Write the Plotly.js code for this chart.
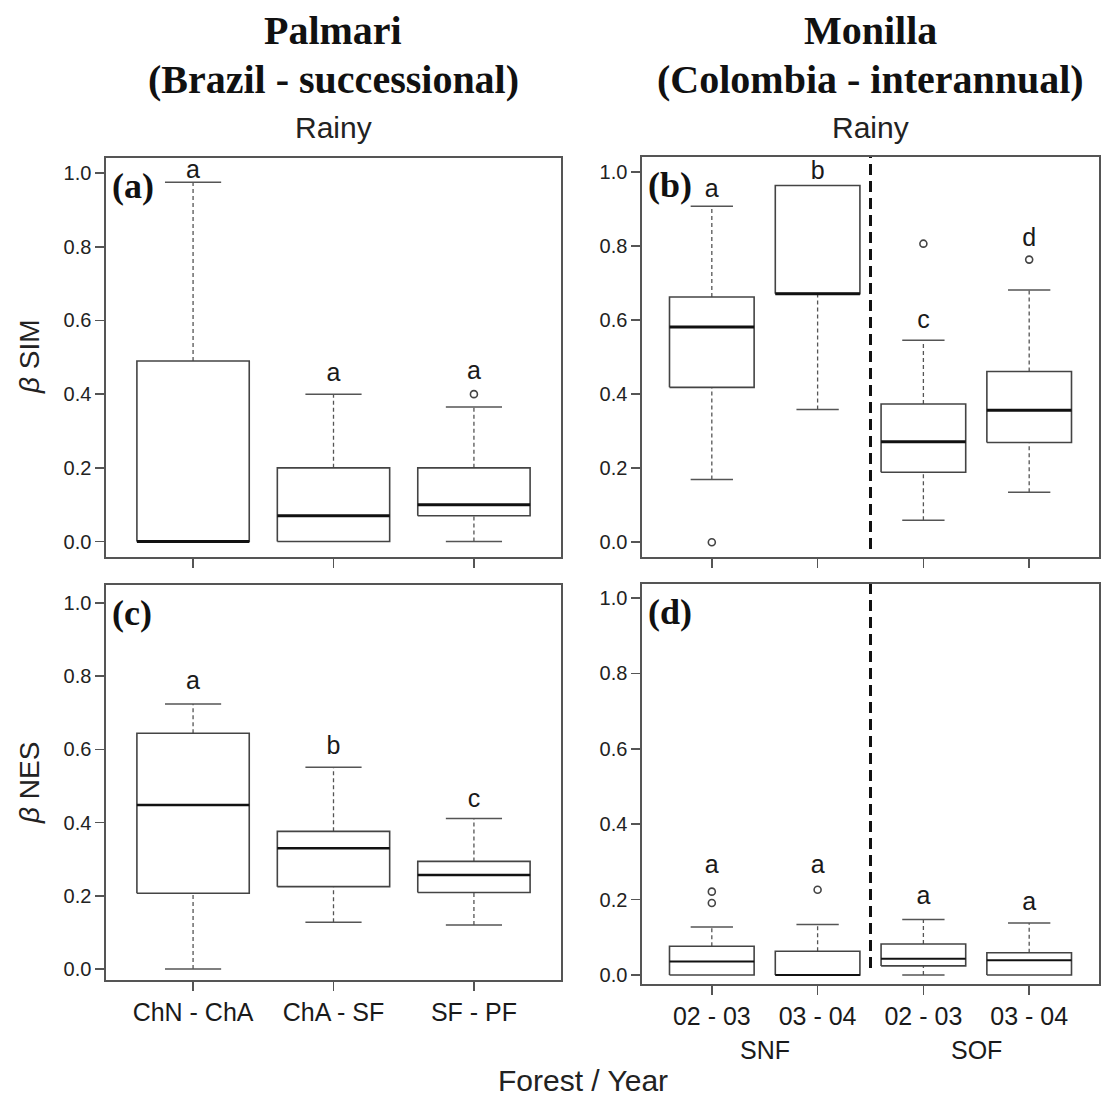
<!DOCTYPE html>
<html><head><meta charset="utf-8">
<script src="https://cdn.plot.ly/plotly-3.0.1.min.js"></script>
<style>html,body{margin:0;padding:0;background:#fff}</style>
</head><body><div id="chart" style="width:1101px;height:1104px"></div>
<script>
// ---------- categories ----------
const catsPalmari = ["ChN - ChA", "ChA - SF", "SF - PF"];
const catsMonilla = ["02 - 03", "03 - 04", "02 - 03", "03 - 04"];
const forestGroups = ["SNF", "SOF"];
const groupCenters = [1.5, 3.5];
const groupBreak = 2.5;

// ---------- (a) Palmari, beta SIM ----------
const simPal_lo  = [0, 0, 0];
const simPal_q1  = [0, 0, 0.07];
const simPal_med = [0, 0.07, 0.10];
const simPal_q3  = [0.49, 0.20, 0.20];
const simPal_hi  = [0.975, 0.40, 0.365];
const simPal_out = [[], [], [0.40]];
const simPal_letters = ["a", "a", "a"];
const simPal_letterY = [1.005, 0.452, 0.457];

// ---------- (b) Monilla, beta SIM ----------
const simMon_lo  = [0.169, 0.358, 0.059, 0.135];
const simMon_q1  = [0.418, 0.671, 0.189, 0.269];
const simMon_med = [0.581, 0.671, 0.271, 0.356];
const simMon_q3  = [0.662, 0.963, 0.373, 0.461];
const simMon_hi  = [0.907, 0.963, 0.545, 0.681];
const simMon_out = [[0.0], [], [0.806], [0.763]];
const simMon_letters = ["a", "b", "c", "d"];
const simMon_letterY = [0.950, 0.997, 0.596, 0.817];

// ---------- (c) Palmari, beta NES ----------
const nesPal_lo  = [0, 0.128, 0.120];
const nesPal_q1  = [0.207, 0.225, 0.209];
const nesPal_med = [0.448, 0.330, 0.257];
const nesPal_q3  = [0.644, 0.376, 0.294];
const nesPal_hi  = [0.724, 0.551, 0.411];
const nesPal_out = [[], [], []];
const nesPal_letters = ["a", "b", "c"];
const nesPal_letterY = [0.781, 0.604, 0.460];

// ---------- (d) Monilla, beta NES ----------
const nesMon_lo  = [0, 0, 0, 0];
const nesMon_q1  = [0, 0, 0.024, 0];
const nesMon_med = [0.036, 0, 0.043, 0.039];
const nesMon_q3  = [0.076, 0.063, 0.082, 0.059];
const nesMon_hi  = [0.127, 0.134, 0.147, 0.138];
const nesMon_out = [[0.191, 0.221], [0.226], [], []];
const nesMon_letters = ["a", "a", "a", "a"];
const nesMon_letterY = [0.286, 0.286, 0.206, 0.189];

// ---------- helpers ----------
const W = 1101, H = 1104;
const px = v => v / W;
const py = v => (H - v) / H;
const SANS = "Liberation Sans, Arial, sans-serif";
const SERIF = "Liberation Serif, Times New Roman, serif";
const BOXC = "#444";

function panelTraces(xa, ya, lo, q1, med, q3, hi, out, letters, letterY, bw, medW) {
  const bx = [], by = [], mx = [], my = [], wx = [], wy = [], cx = [], cy = [], ox = [], oy = [];
  for (let i = 0; i < q1.length; i++) {
    const x = i + 1, l = x - bw / 2, r = x + bw / 2;
    bx.push(l, r, r, l, l, null); by.push(q1[i], q1[i], q3[i], q3[i], q1[i], null);
    mx.push(l, r, null); my.push(med[i], med[i], null);
    if (hi[i] > q3[i]) {
      wx.push(x, x, null); wy.push(q3[i], hi[i], null);
      cx.push(x - bw / 4, x + bw / 4, null); cy.push(hi[i], hi[i], null);
    }
    if (lo[i] < q1[i]) {
      wx.push(x, x, null); wy.push(lo[i], q1[i], null);
      cx.push(x - bw / 4, x + bw / 4, null); cy.push(lo[i], lo[i], null);
    }
    out[i].forEach(v => { ox.push(x); oy.push(v); });
  }
  const common = {xaxis: xa, yaxis: ya, showlegend: false, hoverinfo: "skip"};
  return [
    Object.assign({type: "scatter", mode: "lines", x: wx, y: wy, line: {color: "#555", width: 1.3, dash: "4px,3px"}}, common),
    Object.assign({type: "scatter", mode: "lines", x: cx, y: cy, line: {color: "#555", width: 1.5}}, common),
    Object.assign({type: "scatter", mode: "lines", x: bx, y: by, line: {color: BOXC, width: 1.6}}, common),
    Object.assign({type: "scatter", mode: "lines", x: mx, y: my, line: {color: "#111", width: medW}}, common),
    Object.assign({type: "scatter", mode: "markers", x: ox, y: oy, marker: {symbol: "circle-open", size: 7, color: "#444", line: {width: 1.6, color: "#444"}}}, common),
    Object.assign({type: "scatter", mode: "text", x: letters.map((_, i) => i + 1), y: letterY, text: letters,
      textposition: "middle center", textfont: {family: SANS, size: 25, color: "#1a1a1a"}}, common)
  ];
}

const traces = [].concat(
  panelTraces("x", "y", simPal_lo, simPal_q1, simPal_med, simPal_q3, simPal_hi, simPal_out, simPal_letters, simPal_letterY, 0.8, 3),
  panelTraces("x2", "y2", simMon_lo, simMon_q1, simMon_med, simMon_q3, simMon_hi, simMon_out, simMon_letters, simMon_letterY, 0.8, 3),
  panelTraces("x3", "y3", nesPal_lo, nesPal_q1, nesPal_med, nesPal_q3, nesPal_hi, nesPal_out, nesPal_letters, nesPal_letterY, 0.8, 2.6),
  panelTraces("x4", "y4", nesMon_lo, nesMon_q1, nesMon_med, nesMon_q3, nesMon_hi, nesMon_out, nesMon_letters, nesMon_letterY, 0.8, 2)
);

function xAxis(domain, n, labels, anchor) {
  return {
    domain: domain, anchor: anchor, range: n === 3 ? [0.38, 3.62] : [0.34, 4.66],
    tickvals: Array.from({length: n}, (_, i) => i + 1),
    ticktext: labels || Array(n).fill(""), showticklabels: !!labels,
    ticks: "outside", ticklen: 9, tickwidth: 1.5, tickcolor: "#555",
    tickfont: {family: SANS, size: 25, color: "#1a1a1a"},
    showline: true, mirror: true, linecolor: "#555", linewidth: 1.6,
    showgrid: false, zeroline: false, fixedrange: true
  };
}
function yAxis(domain, range, anchor) {
  return {
    domain: domain, anchor: anchor, range: range,
    tickvals: [0, 0.2, 0.4, 0.6, 0.8, 1.0], ticktext: ["0.0", "0.2", "0.4", "0.6", "0.8", "1.0"],
    ticks: "outside", ticklen: 9, tickwidth: 1.5, tickcolor: "#555",
    tickfont: {family: SANS, size: 20, color: "#222"},
    showline: true, mirror: true, linecolor: "#555", linewidth: 1.6,
    showgrid: false, zeroline: false, fixedrange: true
  };
}

const dA = [px(106), px(561)], dB = [px(642), px(1099)];
const layout = {
  width: W, height: H, margin: {l: 0, r: 0, t: 0, b: 0},
  paper_bgcolor: "#fff", plot_bgcolor: "#fff", showlegend: false,
  xaxis:  xAxis(dA, 3, null, "y"),
  xaxis2: xAxis(dB, 4, null, "y2"),
  xaxis3: xAxis(dA, 3, catsPalmari, "y3"),
  xaxis4: xAxis(dB, 4, catsMonilla, "y4"),
  yaxis:  yAxis([py(557), py(158)], [-0.042, 1.041], "x"),
  yaxis2: yAxis([py(557), py(157)], [-0.040, 1.040], "x2"),
  yaxis3: yAxis([py(980), py(585)], [-0.030, 1.049], "x3"),
  yaxis4: yAxis([py(984), py(584)], [-0.024, 1.037], "x4"),
  shapes: [
    {type: "line", xref: "x2", yref: "y2 domain", x0: groupBreak, x1: groupBreak, y0: 0.02, y1: 1, line: {color: "#111", width: 3, dash: "11px,6px"}},
    {type: "line", xref: "x4", yref: "y4 domain", x0: groupBreak, x1: groupBreak, y0: 0.04, y1: 1, line: {color: "#111", width: 3, dash: "11px,6px"}}
  ],
  annotations: []
};

const ann = layout.annotations;
function addText(text, x, y, size, family, opts) {
  ann.push(Object.assign({text: text, x: x, y: y, xref: "paper", yref: "paper", showarrow: false,
    xanchor: "center", yanchor: "middle", font: {family: family, size: size, color: "#111"}}, opts || {}));
}
// column headers
addText("<b>Palmari</b>", px(333), py(30), 40, SERIF);
addText("<b>(Brazil - successional)</b>", px(333), py(79), 40, SERIF);
addText("Rainy", px(333), py(127), 30, SANS, {font: {family: SANS, size: 30, color: "#222"}});
addText("<b>Monilla</b>", px(870), py(30), 40, SERIF);
addText("<b>(Colombia - interannual)</b>", px(870), py(79), 40, SERIF);
addText("Rainy", px(870), py(127), 30, SANS, {font: {family: SANS, size: 30, color: "#222"}});
// y titles
addText("<i>β</i> SIM", px(29), py(357), 28, SANS, {textangle: -90, font: {family: SANS, size: 28, color: "#222"}});
addText("<i>β</i> NES", px(29), py(783), 28, SANS, {textangle: -90, font: {family: SANS, size: 28, color: "#222"}});
// x title
addText("Forest / Year", px(583), py(1080), 30, SANS, {font: {family: SANS, size: 30, color: "#222"}});
// panel tags
[["(a)", "x", "y"], ["(b)", "x2", "y2"], ["(c)", "x3", "y3"], ["(d)", "x4", "y4"]].forEach(t => {
  ann.push({text: "<b>" + t[0] + "</b>", xref: t[1] + " domain", yref: t[2] + " domain", x: 0, y: 1,
    xanchor: "left", yanchor: "top", xshift: 4, yshift: -6, showarrow: false,
    font: {family: SERIF, size: 36, color: "#111"}});
});
// forest group labels under panel (d)
forestGroups.forEach((g, i) => {
  ann.push({text: g, xref: "x4", yref: "paper", x: groupCenters[i], y: py(1050), showarrow: false,
    xanchor: "center", yanchor: "middle", font: {family: SANS, size: 25, color: "#1a1a1a"}});
});

Plotly.newPlot("chart", traces, layout, {displayModeBar: false, staticPlot: true});
</script>
</body></html>
